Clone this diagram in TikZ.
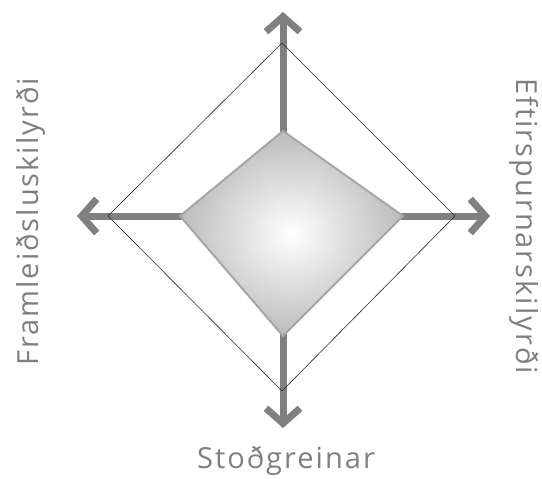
\documentclass[tikz,border=0pt]{standalone}
\usepackage{fontspec}
\setmainfont[LetterSpace=7]{Open Sans}
\usetikzlibrary{arrows.meta}
\definecolor{axisgray}{HTML}{808080}
\definecolor{innerborder}{HTML}{A6A6A6}
\definecolor{innerfill}{HTML}{BCBCBC}
\definecolor{labelgray}{HTML}{7F7F7F}
\begin{document}
\begin{tikzpicture}[x=1pt,y=-1pt,
  axisarrow/.style={line width=7pt, draw=axisgray, -{Straight Barb[length=15pt,width=34pt]}},
  outerdiamond/.style={draw=black!85, line width=0.6pt},
  innerdiamond/.style={draw=innerborder, line width=2pt, inner color=white, outer color=innerfill},
  lbl/.style={text=labelgray, font=\fontsize{29}{32}\selectfont, inner sep=0pt}]
\useasboundingbox (0,0) rectangle (542,479);
\coordinate (O) at (283,216);
\coordinate (tipN) at (283,12);
\coordinate (tipS) at (283,428);
\coordinate (tipW) at (77,216);
\coordinate (tipE) at (490,216);
\coordinate (oN) at (282,43);
\coordinate (oE) at (455,216);
\coordinate (oS) at (282,391);
\coordinate (oW) at (108,216);
\coordinate (iN) at (283,131);
\coordinate (iE) at (403,216);
\coordinate (iS) at (283,336);
\coordinate (iW) at (180,216);
\draw[axisarrow] (O) -- (tipN);
\draw[axisarrow] (O) -- (tipS);
\draw[axisarrow] (O) -- (tipW);
\draw[axisarrow] (O) -- (tipE);
\draw[outerdiamond] (oN) -- (oE) -- (oS) -- (oW) -- cycle;
\draw[innerdiamond] (iN) -- (iE) -- (iS) -- (iW) -- cycle;
\node[lbl, rotate=90] (lblW) at (31,222) {Framleiðsluskilyrði};
\node[lbl, rotate=-90] (lblE) at (524,226) {Eftirspurnarskilyrði};
\node[lbl] (lblS) at (286,461) {Stoðgreinar};
\end{tikzpicture}
\end{document}
